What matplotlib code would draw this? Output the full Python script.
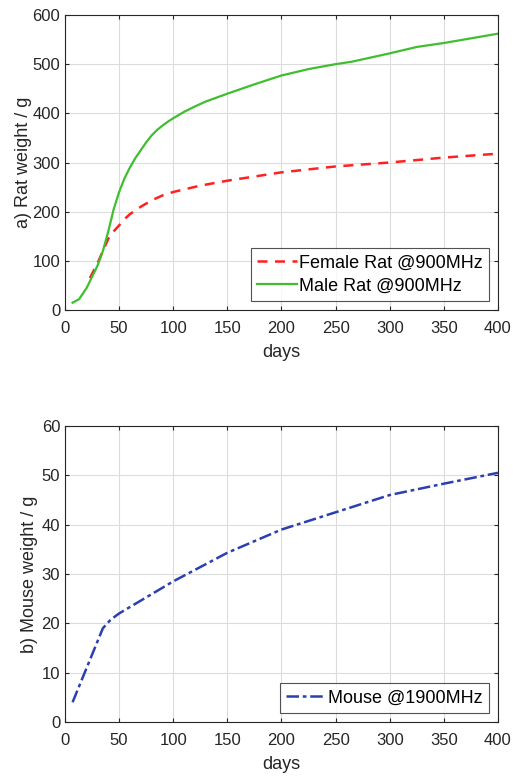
import matplotlib
matplotlib.use("Agg")
import matplotlib.pyplot as plt

plt.rcParams['font.family'] = ['Liberation Sans', 'DejaVu Sans']

male_days = [7, 13, 20, 30, 35, 40, 45, 50, 55, 60, 65, 70, 75, 80, 85, 90, 95, 100, 110, 120, 130, 150, 175, 200, 225, 250, 265, 300, 325, 350, 400]
male_w = [15, 22, 45, 90, 120, 160, 205, 240, 268, 290, 309, 325, 341, 355, 366, 375, 383, 390, 403, 414, 424, 440, 459, 477, 490, 500, 505, 522, 535, 543, 562]

female_days = [23, 30, 35, 40, 45, 50, 55, 60, 70, 80, 90, 100, 125, 150, 200, 250, 300, 350, 400]
female_w = [65, 95, 120, 145, 160, 172, 185, 195, 210, 223, 233, 240, 253, 263, 280, 292, 300, 310, 318]

mouse_days = [7, 35, 42, 50, 100, 150, 200, 250, 300, 350, 400]
mouse_w = [4, 19, 20.7, 22, 28.5, 34.3, 39, 42.5, 46, 48.3, 50.5]

xticks = [0, 50, 100, 150, 200, 250, 300, 350, 400]

txt = '#262626'
fig = plt.figure(figsize=(5.13, 7.77), dpi=100)
ax1 = fig.add_axes([0.1267, 0.601, 0.844, 0.3797])
ax2 = fig.add_axes([0.1267, 0.0708, 0.844, 0.381])

ax1.plot(female_days, female_w, color='#ff2020', ls=(0, (4, 3)), lw=1.8, label='Female Rat @900MHz')
ax1.plot(male_days, male_w, color='#3fbf2f', lw=1.6, label='Male Rat @900MHz')
ax1.set_ylim(0, 600)
ax1.set_yticks([0, 100, 200, 300, 400, 500, 600])
ax1.set_ylabel('a) Rat weight / g', fontsize=13, color=txt, labelpad=0)

ax2.plot(mouse_days, mouse_w, color='#2b3fb0', ls=(0, (5, 1.5, 1.5, 1.5)), lw=1.8, label='Mouse @1900MHz')
ax2.set_ylim(0, 60)
ax2.set_yticks([0, 10, 20, 30, 40, 50, 60])
ax2.set_ylabel('b) Mouse weight / g', fontsize=13, color=txt, labelpad=2.5)

for ax in (ax1, ax2):
    ax.set_xlim(0, 400)
    ax.set_xticks(xticks)
    ax.set_xlabel('days', fontsize=13, color=txt, labelpad=6)
    ax.grid(True, color='#dcdcdc', lw=0.8)
    ax.set_axisbelow(True)
    ax.tick_params(direction='in', top=True, right=True, labelsize=12, colors=txt, length=3)
    ax.tick_params(axis='x', pad=8)
    for s in ax.spines.values():
        s.set_color('#262626')
        s.set_linewidth(0.8)

leg1 = ax1.legend(loc='lower right', fontsize=13, frameon=True, fancybox=False,
                  edgecolor='#262626', handlelength=2.2, handletextpad=0.1,
                  borderpad=0.35, labelspacing=0.35, borderaxespad=0.5)
leg1.get_frame().set_linewidth(0.8)
leg2 = ax2.legend(loc='lower right', fontsize=13, frameon=True, fancybox=False,
                  edgecolor='#262626', handlelength=2.2, handletextpad=0.1,
                  borderpad=0.35, borderaxespad=0.5)
leg2.get_frame().set_linewidth(0.8)

fig.savefig('out.png', dpi=100)
